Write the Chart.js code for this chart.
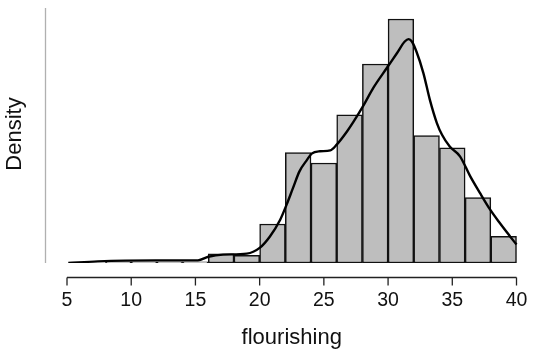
<!DOCTYPE html>
<html lang="en">
<head>
  <meta charset="UTF-8">
  <script src="https://cdn.jsdelivr.net/npm/chart.js"></script>
  <title>flourishing</title>
  <style>
    body{margin:0; background:#fff;}
    #wrap{width:533px; height:352px;}
  </style>
</head>
<body>
  <div id="wrap">
    <canvas id="myChart" width="533" height="352"></canvas>
  </div>
  <script>
    // histogram bins (edges) and their density
    const binEdges = [8, 10, 12, 14, 16, 18, 20, 22, 24, 26, 28, 30, 32, 34, 36, 38, 40];
    const binDensity = [0.0005, 0.0005, 0.0005, 0.0005, 0.0038, 0.0032, 0.0163, 0.0462,
                        0.0418, 0.0619, 0.0832, 0.1020, 0.0533, 0.0481, 0.0274, 0.0111];

    // kernel density curve
    const curveX = [5.1, 7.4, 11.9, 15.2, 16.0, 17.15, 19.0, 20.0, 20.8, 21.6, 22.1, 22.6, 23.1,
                    23.7, 24.05, 24.7, 25.5, 26.0, 26.8, 27.3, 28.1, 28.85, 29.9, 30.7, 31.3,
                    31.6, 31.85, 32.2, 32.75, 33.25, 33.8, 34.2, 34.8, 35.6, 36.4, 37.15, 37.95,
                    38.7, 39.5, 40.0];
    const curveY = [0.0000, 0.0007, 0.0011, 0.0011, 0.0026, 0.0035, 0.0039, 0.0063, 0.0111,
                    0.0181, 0.0244, 0.0314, 0.0383, 0.0432, 0.0457, 0.0467, 0.0471, 0.0495,
                    0.0550, 0.0590, 0.0660, 0.0732, 0.0815, 0.0878, 0.0926, 0.0936, 0.0926,
                    0.0885, 0.0794, 0.0683, 0.0585, 0.0536, 0.0487, 0.0446, 0.0362, 0.0293,
                    0.0223, 0.0167, 0.0111, 0.0077];

    const xTicks = [5, 10, 15, 20, 25, 30, 35, 40];
    const xTitle = 'flourishing';
    const yTitle = 'Density';

    // build chart data
    let barData = [];
    for(let i=0;i<binDensity.length;i++){
      barData.push({x:(binEdges[i]+binEdges[i+1])/2, y:binDensity[i]});
    }
    let lineData = curveX.map((v,i)=>({x:v, y:curveY[i]}));

    // axes are drawn by hand, R style
    const rAxes = {
      id:'rAxes',
      afterDraw(chart){
        const ctx = chart.ctx;
        const xs = chart.scales.x;
        const area = chart.chartArea;
        ctx.save();
        // y axis line (no ticks)
        ctx.strokeStyle = '#b0b0b0';
        ctx.lineWidth = 1.3;
        ctx.beginPath();
        ctx.moveTo(45.5, area.top);
        ctx.lineTo(45.5, area.bottom);
        ctx.stroke();

        // x axis line + ticks
        const axisY = 277.5;
        ctx.strokeStyle = '#222';
        ctx.lineWidth = 1.3;
        ctx.beginPath();
        ctx.moveTo(xs.getPixelForValue(xTicks[0]), axisY);
        ctx.lineTo(xs.getPixelForValue(xTicks[xTicks.length-1]), axisY);
        xTicks.forEach(t=>{
          const px = xs.getPixelForValue(t);
          ctx.moveTo(px, axisY);
          ctx.lineTo(px, axisY+8);
        });
        ctx.stroke();

        ctx.fillStyle = '#111';
        ctx.font = '19.5px "Liberation Sans", Arial, sans-serif';
        ctx.textAlign = 'center';
        ctx.textBaseline = 'middle';
        xTicks.forEach(t=>{
          ctx.fillText(String(t), xs.getPixelForValue(t), 300.5);
        });

        ctx.font = '22px "Liberation Sans", Arial, sans-serif';
        ctx.textBaseline = 'alphabetic';
        ctx.fillText(xTitle, (xs.getPixelForValue(5)+xs.getPixelForValue(40))/2, 343.5);

        ctx.translate(20.5, 134);
        ctx.rotate(-Math.PI/2);
        ctx.fillText(yTitle, 0, 0);
        ctx.restore();
      }
    };

    new Chart(document.getElementById('myChart'), {
      data: {
        datasets: [
          {
            type: 'line',
            data: lineData,
            borderColor: '#000',
            borderWidth: 2.4,
            pointRadius: 0,
            cubicInterpolationMode: 'monotone',
            fill: false,
            order: 0
          },
          {
            type: 'bar',
            data: barData,
            backgroundColor: '#bebebe',
            borderColor: '#111',
            borderWidth: 1.5,
            borderSkipped: false,
            barPercentage: 1,
            categoryPercentage: 1,
            order: 1
          }
        ]
      },
      options: {
        responsive: false,
        animation: false,
        layout: { padding: { left: 45, right: 5, top: 8, bottom: 89 } },
        scales: {
          x: { type: 'linear', min: 3.287, max: 40.895, offset: false, display: false },
          y: { min: 0, max: 0.1066, display: false }
        },
        plugins: {
          legend: { display: false },
          tooltip: { enabled: false }
        }
      },
      plugins: [rAxes]
    });
  </script>
</body>
</html>
